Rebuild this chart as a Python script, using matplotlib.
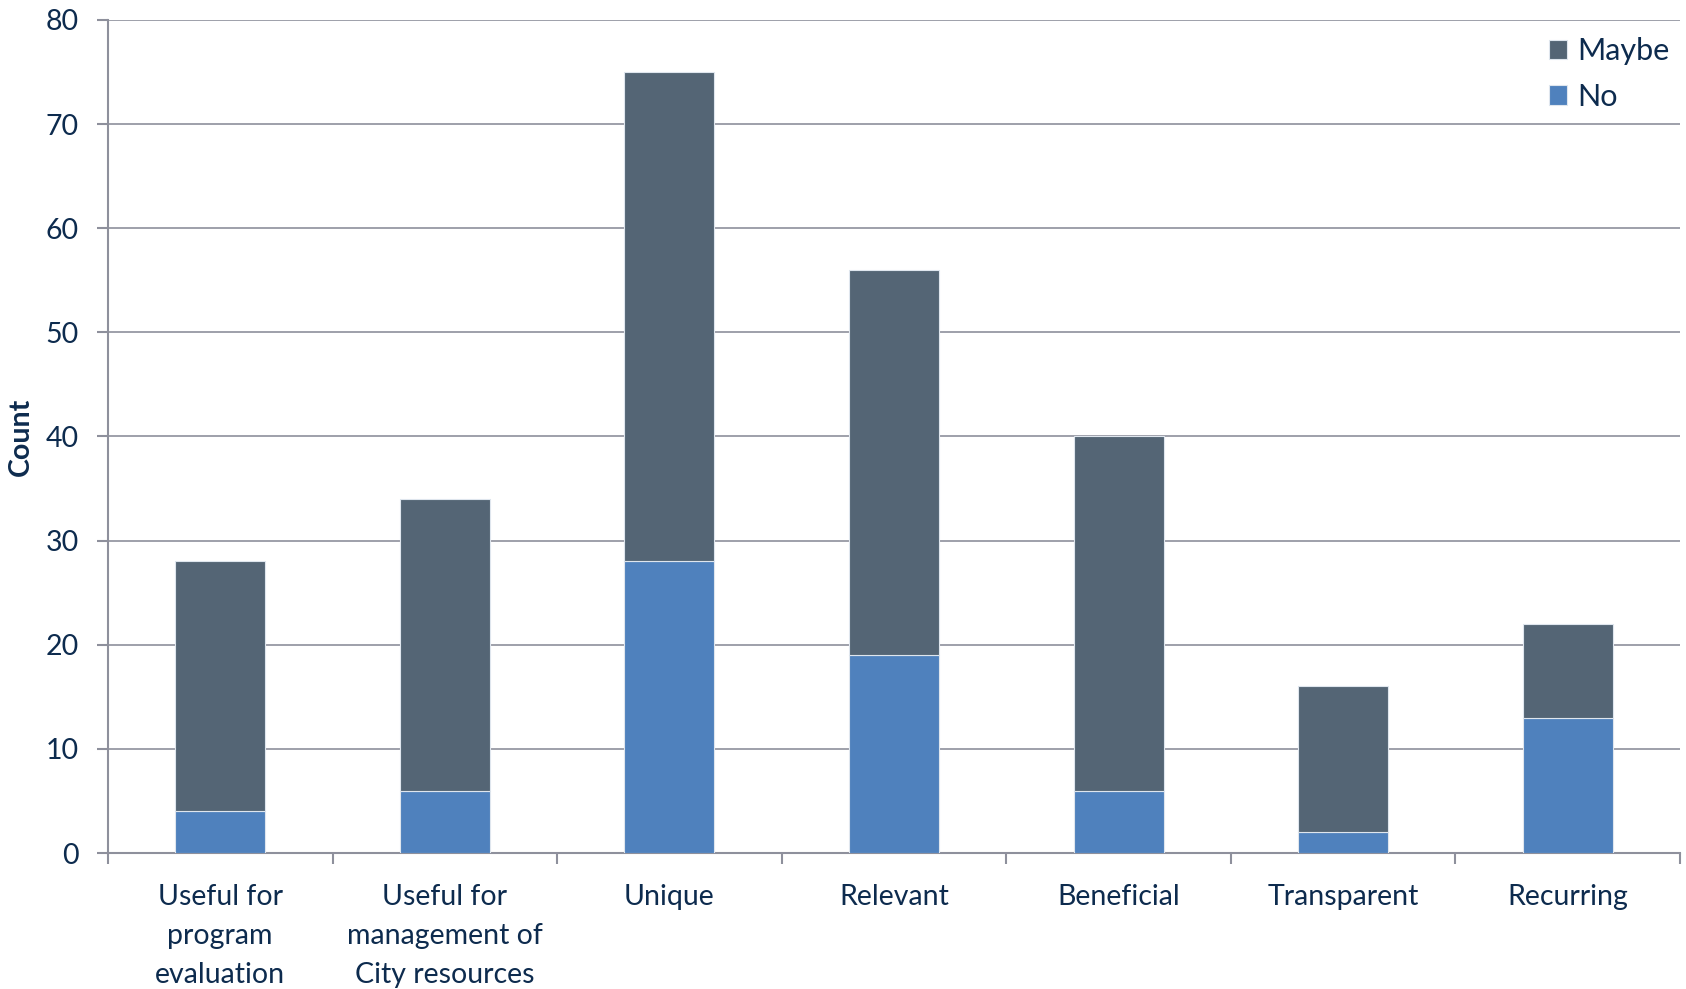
import matplotlib
matplotlib.use('Agg')
from matplotlib import pyplot as plt
from matplotlib.ticker import FixedLocator
import numpy

categories = ['Useful for\nprogram\nevaluation', 'Useful for\nmanagement of\nCity resources',
              'Unique', 'Relevant', 'Beneficial', 'Transparent', 'Recurring']
no_values = [4, 6, 28, 19, 6, 2, 13]
maybe_values = [24, 28, 47, 37, 34, 14, 9]
y_ticks = [0, 10, 20, 30, 40, 50, 60, 70, 80]

text_color = '#0d2b4e'
axis_color = '#8e909c'

plt.rcParams['font.family'] = ['Lato', 'DejaVu Sans']
plt.rcParams['font.size'] = 20.5

fig = plt.figure(figsize=(16.86, 9.89), dpi=100)
ax = fig.add_axes([0.064, 0.1375, 0.9325, 0.8423])

x = numpy.arange(len(categories))
ax.bar(x, no_values, width=0.4, color='#4f81bd', edgecolor='#dfe6ee', linewidth=0.8,
       label='No', zorder=3)
ax.bar(x, maybe_values, width=0.4, bottom=no_values, color='#546575', edgecolor='#dfe6ee',
       linewidth=0.8, label='Maybe', zorder=3)

ax.set_xlim(-0.5, len(categories) - 0.5)
ax.set_ylim(0, 80)
ax.set_yticks(y_ticks)
ax.set_xticks(x)
ax.set_xticklabels(categories, linespacing=1.62, va='top')
ax.xaxis.set_minor_locator(FixedLocator(numpy.arange(-0.5, len(categories), 1.0)))

ax.yaxis.grid(True, color=axis_color, linewidth=1.2, zorder=0)
for side in ['top', 'right']:
    ax.spines[side].set_visible(False)
for side in ['left', 'bottom']:
    ax.spines[side].set_color(axis_color)
    ax.spines[side].set_linewidth(1.5)

ax.tick_params(axis='x', which='major', length=0, pad=22, colors=text_color)
ax.tick_params(axis='x', which='minor', length=8, width=1.5, color=axis_color)
ax.tick_params(axis='y', length=8, width=1.5, color=axis_color, pad=13, labelcolor=text_color)

ax.set_ylabel('Count', fontweight='bold', color=text_color)
ax.yaxis.set_label_coords(-0.047, 0.5)

handles, labels = ax.get_legend_handles_labels()
ax.legend(handles[::-1], labels[::-1], loc='upper right', frameon=False, fontsize=22,
          handlelength=0.6, handleheight=0.6, handletextpad=0.35, labelspacing=0.57,
          labelcolor=text_color, bbox_to_anchor=(1.011, 1.012))

plt.savefig('out.png', dpi=100)
plt.close()
